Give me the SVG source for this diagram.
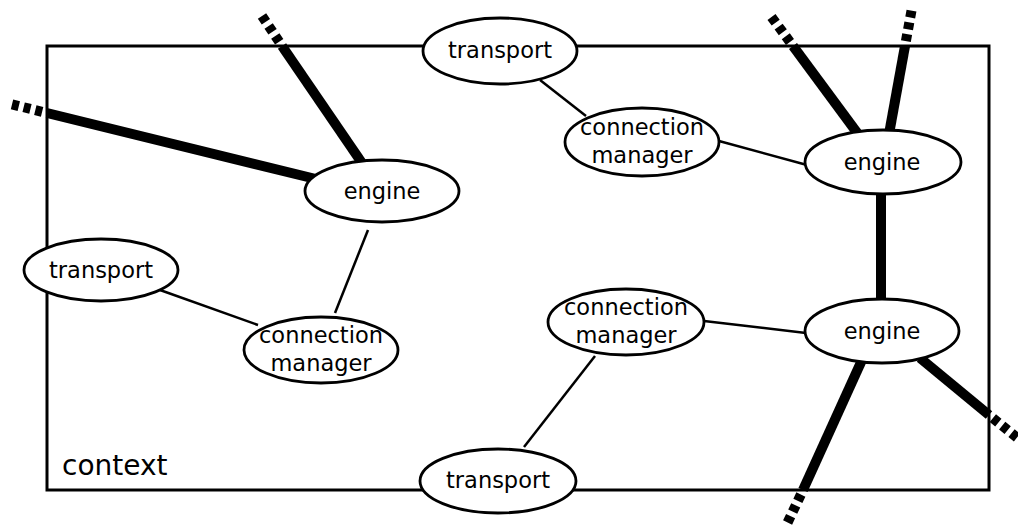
<svg xmlns="http://www.w3.org/2000/svg" width="1018" height="525" viewBox="0 0 1018 525">
  <style>
    .ctx { fill: none; stroke: #000; stroke-width: 3; }
    .thin { stroke: #000; stroke-width: 2.5; fill: none; }
    .thick { stroke: #000; stroke-width: 10; fill: none; }
    .ext { stroke: #000; stroke-width: 10; fill: none; stroke-dasharray: 7 5 7 5 7 100; }
    .node ellipse { fill: #fff; stroke: #000; stroke-width: 2.8; }
    text { font-family: "DejaVu Sans", "Liberation Sans", sans-serif; font-size: 22.5px; fill: #000; text-anchor: middle; }
    .label { font-size: 28px; text-anchor: start; }
  </style>

  <!-- context boundary -->
  <rect class="ctx" x="47" y="46" width="942" height="444"/>
  <text class="label" x="62" y="475">context</text>

  <g id="connectors">
    <!-- engine links (thick) -->
    <line class="thick" x1="320" y1="180" x2="47" y2="113"/>
    <line class="ext" x1="12" y1="104.4" x2="47" y2="113"/>
    <line class="thick" x1="362" y1="163" x2="282" y2="46"/>
    <line class="ext" x1="262" y1="16" x2="282" y2="46"/>
    <line class="thick" x1="858" y1="134" x2="793" y2="46"/>
    <line class="ext" x1="771.5" y1="17" x2="793" y2="46"/>
    <line class="thick" x1="889" y1="134" x2="905" y2="46"/>
    <line class="ext" x1="911.5" y1="10.6" x2="905" y2="46"/>
    <line class="thick" x1="881" y1="190" x2="881" y2="305"/>
    <line class="thick" x1="862" y1="360" x2="803" y2="490"/>
    <line class="ext" x1="787.6" y1="522.5" x2="803" y2="490"/>
    <line class="thick" x1="920" y1="358" x2="989" y2="415"/>
    <line class="ext" x1="1017" y1="437.6" x2="989" y2="415"/>
    <!-- transport / connection manager / engine links (thin) -->
    <line class="thin" x1="540" y1="80" x2="586" y2="116"/>
    <line class="thin" x1="719" y1="141" x2="807" y2="165"/>
    <line class="thin" x1="368" y1="230" x2="335" y2="313"/>
    <line class="thin" x1="160" y1="290" x2="258" y2="325"/>
    <line class="thin" x1="704" y1="321" x2="806" y2="333"/>
    <line class="thin" x1="595" y1="356" x2="524" y2="447"/>
  </g>

  <g id="transport-top" class="node">
    <ellipse cx="500" cy="51" rx="77" ry="33"/>
    <text x="500" y="58">transport</text>
  </g>
  <g id="connection-manager-top" class="node">
    <ellipse cx="642" cy="142" rx="77" ry="34"/>
    <text x="642" y="135">connection</text>
    <text x="642" y="163">manager</text>
  </g>
  <g id="engine-top-right" class="node">
    <ellipse cx="883" cy="162" rx="78" ry="32"/>
    <text x="882" y="170">engine</text>
  </g>
  <g id="engine-left" class="node">
    <ellipse cx="382" cy="191" rx="77" ry="31"/>
    <text x="382" y="199">engine</text>
  </g>
  <g id="transport-left" class="node">
    <ellipse cx="101" cy="270" rx="77" ry="31"/>
    <text x="101" y="278">transport</text>
  </g>
  <g id="connection-manager-left" class="node">
    <ellipse cx="321" cy="350" rx="77" ry="33"/>
    <text x="321" y="343">connection</text>
    <text x="321" y="371">manager</text>
  </g>
  <g id="connection-manager-right" class="node">
    <ellipse cx="626" cy="322" rx="78" ry="33"/>
    <text x="626" y="315">connection</text>
    <text x="626" y="343">manager</text>
  </g>
  <g id="engine-bottom-right" class="node">
    <ellipse cx="882" cy="331" rx="77" ry="32"/>
    <text x="882" y="339">engine</text>
  </g>
  <g id="transport-bottom" class="node">
    <ellipse cx="498" cy="481" rx="78" ry="32"/>
    <text x="498" y="488">transport</text>
  </g>
</svg>
